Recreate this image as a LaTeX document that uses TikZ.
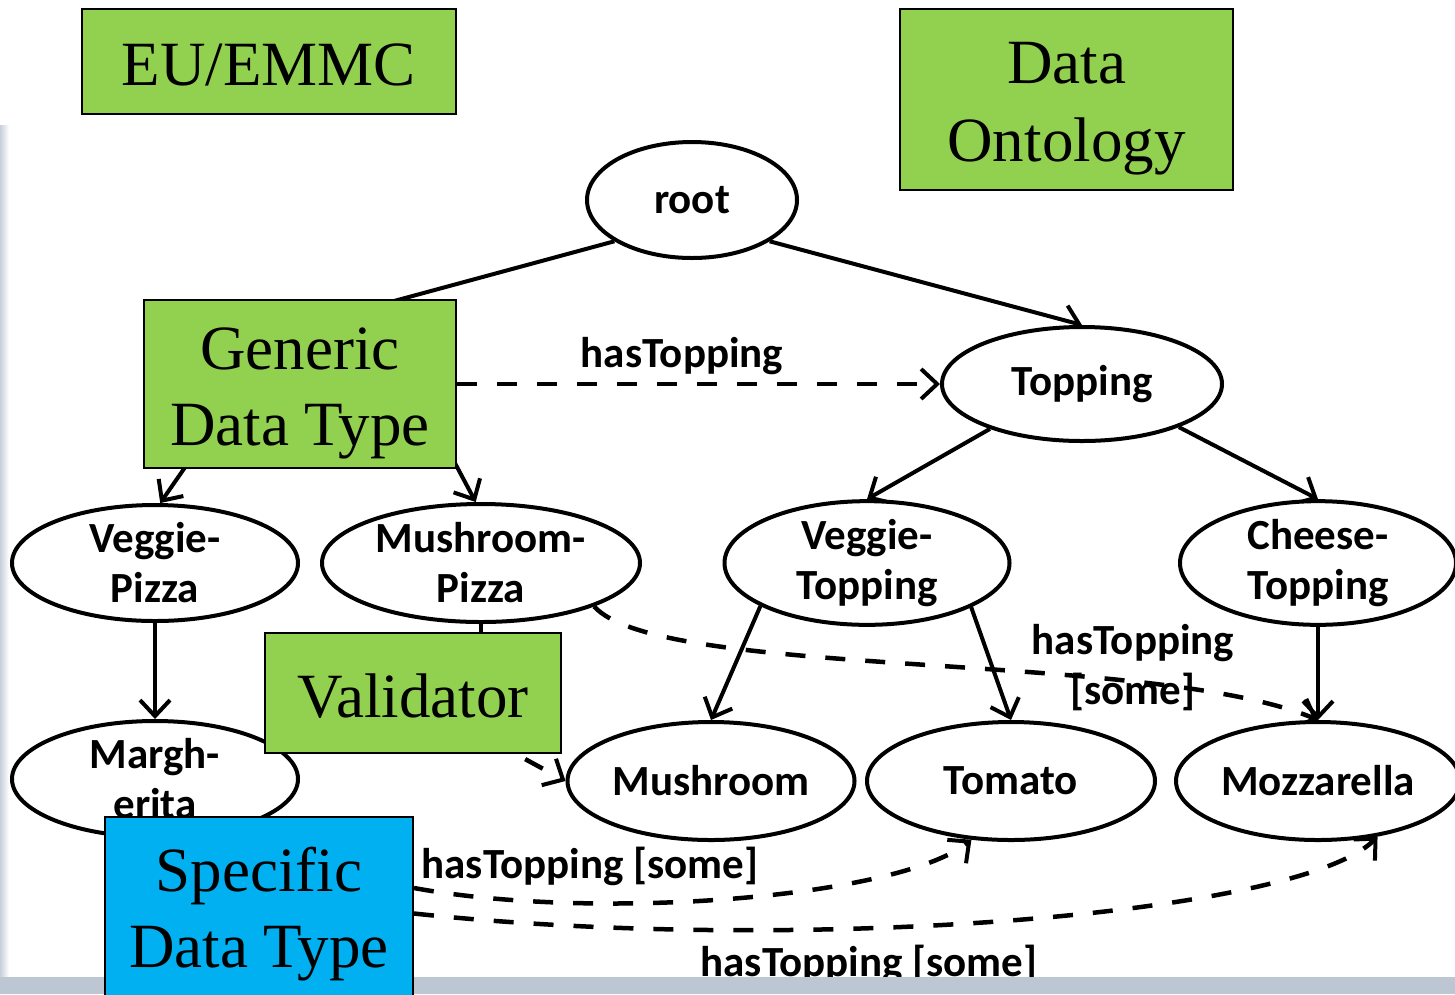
\documentclass[tikz,border=0pt]{standalone}
\usepackage{fontspec}
\setmainfont{Liberation Serif}
\newfontfamily\calib{Carlito}
\usetikzlibrary{arrows.meta,shapes.geometric}
\definecolor{boxgreen}{HTML}{92D050}
\definecolor{boxblue}{HTML}{00B0F0}
\definecolor{slidegrey}{HTML}{BDC7D3}
\pgfdeclarelayer{back}
\pgfdeclarelayer{edges}
\pgfdeclarelayer{strip}
\pgfsetlayers{back,edges,strip,main}
\begin{document}
\begin{tikzpicture}[x=1pt,y=-1pt,
  concept/.style={ellipse, draw, line width=4pt, fill=white, inner sep=0pt,
    align=center, font=\calib\bfseries\fontsize{43}{50}\selectfont},
  tag/.style={rectangle, draw, line width=2pt, fill=boxgreen, inner sep=0pt,
    align=center, font=\fontsize{63}{76}\selectfont},
  plain/.style={line width=4pt},
  isa/.style={line width=4pt, -{Straight Barb[length=16pt,width=30pt,line width=4pt]}},
  rel/.style={line width=4.5pt, dash pattern=on 20pt off 20pt,
    -{Straight Barb[length=16pt,width=30pt,line width=4pt]}},
  rellabel/.style={anchor=base, align=center, inner sep=0pt,
    font=\calib\bfseries\fontsize{43}{50}\selectfont}]

\useasboundingbox (0,0) rectangle (1455,994);

% slide background
\begin{pgfonlayer}{back}
  \fill[white] (0,0) rectangle (1455,994);
  \shade[left color=slidegrey!85, right color=white] (0,125) rectangle (9,978);
\end{pgfonlayer}

% ontology concepts
\node[concept, minimum width=210pt, minimum height=116pt] (root) at (692,200) {root};
\node[concept, minimum width=280pt, minimum height=114pt] (top)  at (1082,384) {Topping};
\node[concept, minimum width=286pt, minimum height=116pt] (vp)   at (155,563) {Veggie-\\Pizza};
\node[concept, minimum width=318pt, minimum height=118pt] (mp)   at (481,563) {Mushroom-\\Pizza};
\node[concept, minimum width=285pt, minimum height=116pt] (vt)   at (867,563) {Veggie-\\Topping};
\node[concept, minimum width=276pt, minimum height=116pt] (ct)   at (1318,563) {Cheese-\\Topping};
\node[concept, minimum width=286pt, minimum height=116pt] (marg) at (155,779) {Margh-\\erita};
\node[concept, minimum width=287pt, minimum height=118pt] (mush) at (711,781) {Mushroom};
\node[concept, minimum width=288pt, minimum height=118pt] (tom)  at (1011,781) {Tomato};
\node[concept, minimum width=284pt, minimum height=118pt] (moz)  at (1318,781) {Mozzarella};

% overlay labels
\node[tag, minimum width=374pt, minimum height=105pt] (eu) at (269,61.5) {\rule{0pt}{48pt}EU/EMMC};
\node[tag, minimum width=333pt, minimum height=181pt, font=\fontsize{63}{78}\selectfont]
  (onto) at (1066.5,99.5) {\rule{0pt}{59pt}Data\\Ontology};
\node[tag, minimum width=312pt, minimum height=168pt] (gdt) at (300,384) {\rule{0pt}{60pt}Generic\\Data Type};
\node[tag, minimum width=296pt, minimum height=120pt] (val) at (413,693) {\rule{0pt}{50pt}Validator};
\node[tag, fill=boxblue, minimum width=308pt, minimum height=193pt] (spec) at (259,913.5) {\rule{0pt}{46pt}Specific\\Data Type};

% ends of links hidden under the labels
\coordinate (rootIn) at (324,320);
\coordinate (vpIn)   at (197,450);
\coordinate (mpIn)   at (448,450);
\coordinate (valIn)  at (481,700);
\coordinate (valOut) at (490,740);

\begin{pgfonlayer}{edges}
  \draw[plain] (root.208) -- (rootIn);
  \draw[isa] (root.332) -- (top.north);
  \draw[rel] (gdt.east) -- (top.west);
  \node[rellabel] at (682,367) {hasTopping};
  \draw[isa] (vpIn) -- (vp.85);
  \draw[isa] (mpIn) -- (mp.95);
  \draw[isa] (top.206) -- (vt.north);
  \draw[isa] (top.336) -- (ct.north);
  \draw[isa] (vp.south) -- (marg.north);
  \draw[plain] (mp.south) -- (valIn);
  \draw[isa] (vt.202) -- (mush.north);
  \draw[isa] (vt.337) -- (tom.north);
  \draw[isa] (ct.south) -- (moz.north);
  \draw[rel] (mp.339) .. controls (660,680) and (1150,650) .. (moz.north);
  \node[rellabel, anchor=center] at (1133,667.5) {hasTopping\\{[some]}};
  \draw[rel] (valOut) -- (mush.west);
  \draw[rel] ([yshift=25.5pt]spec.east) .. controls (600,922) and (900,897) .. (tom.236);
  \node[rellabel] at (590,878) {hasTopping [some]};
  \draw[rel] (spec.east) .. controls (800,955) and (1300,915) .. (moz.317);
  \node[rellabel] at (869,976) {hasTopping [some]};
\end{pgfonlayer}

% bottom edge of the slide
\begin{pgfonlayer}{strip}
  \fill[slidegrey] (0,977) rectangle (1455,994);
\end{pgfonlayer}
\end{tikzpicture}
\end{document}
